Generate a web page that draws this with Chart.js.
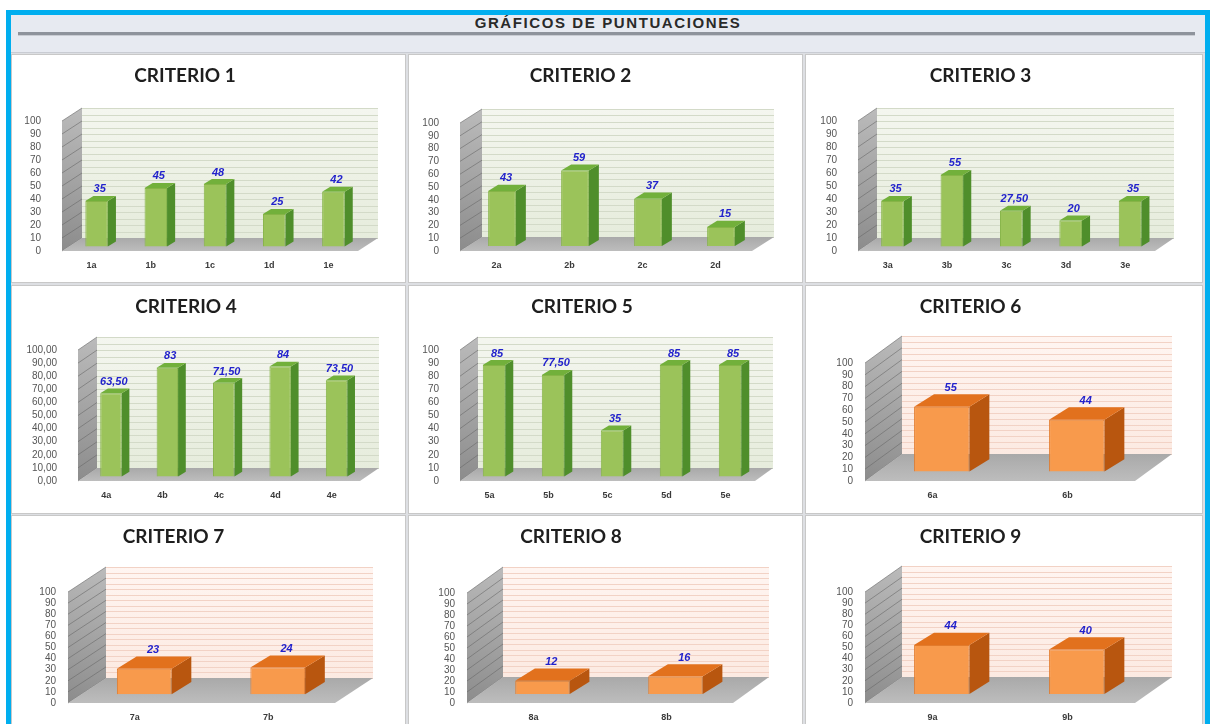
<!DOCTYPE html>
<html>
<head>
<meta charset="utf-8">
<script src="https://cdn.jsdelivr.net/npm/chart.js@4.4.1/dist/chart.umd.min.js"></script>
<style>
  body { margin: 0; width: 1211px; height: 724px; overflow: hidden; background: #fff; }
  #frame { position: absolute; left: 6px; top: 10px; width: 1194px; height: 720px;
           border: 5px solid #00AEEF; background: #E7EAF1; }
  #head { position: absolute; left: 11px; top: 15px; width: 1194px; text-align: center;
          font: bold 15px "Liberation Sans Narrow", "Liberation Sans", sans-serif;
          letter-spacing: 1.6px; color: #2a2a2a; line-height: 15px; }
  #rule { position: absolute; left: 18px; top: 32px; width: 1177px; height: 3px;
          background: #8E939C; border-bottom: 1px solid #C9CCD3; }
  #grid { position: absolute; left: 11px; top: 52px; width: 1194px; height: 700px;
          background: #DDDFE3; border-top: 1px solid #C9CCD3; }
  .panel { position: absolute; border: 1px solid #C8C8C8; background: #fff; }
  .panel canvas { display: block; }
</style>
</head>
<body>
<div id="frame"></div>
<div id="head">GRÁFICOS DE PUNTUACIONES</div>
<div id="rule"></div>
<div id="grid"></div>
<div id="panels"></div>

<script>
// ---- data ----
const titles = ["CRITERIO 1", "CRITERIO 2", "CRITERIO 3", "CRITERIO 4", "CRITERIO 5",
                "CRITERIO 6", "CRITERIO 7", "CRITERIO 8", "CRITERIO 9"];

const labels1 = ["1a", "1b", "1c", "1d", "1e"];
const values1 = [35, 45, 48, 25, 42];
const labels2 = ["2a", "2b", "2c", "2d"];
const values2 = [43, 59, 37, 15];
const labels3 = ["3a", "3b", "3c", "3d", "3e"];
const values3 = [35, 55, 27.5, 20, 35];
const labels4 = ["4a", "4b", "4c", "4d", "4e"];
const values4 = [63.5, 83, 71.5, 84, 73.5];
const labels5 = ["5a", "5b", "5c", "5d", "5e"];
const values5 = [85, 77.5, 35, 85, 85];
const labels6 = ["6a", "6b"];
const values6 = [55, 44];
const labels7 = ["7a", "7b"];
const values7 = [23, 24];
const labels8 = ["8a", "8b"];
const values8 = [12, 16];
const labels9 = ["9a", "9b"];
const values9 = [44, 40];

const yMin = 0, yMax = 100, yStep = 10;

const allLabels = [labels1, labels2, labels3, labels4, labels5, labels6, labels7, labels8, labels9];
const allValues = [values1, values2, values3, values4, values5, values6, values7, values8, values9];

// ---- looks ----
const looks = {
  green: { front: "#9BC35A", border: "#86B447", side: "#4F8E2B", top: "#72B03B",
           wall: ["#F4F6EF", "#E6ECDC"], grid: "#D3DAC8", gridStep: 5, bar: 0.38, tickPad: 21 },
  orange: { front: "#F89A4C", border: "#E27B2C", side: "#B8560F", top: "#E2711D",
            wall: ["#FFF5F1", "#FCEAE2"], grid: "#F2D2C5", gridStep: 5, bar: 0.41, tickPad: 12 }
};

// panel boxes: left, top, width, height
const colX = [11, 408, 805], colW = [395, 395, 398], rowY = [54, 285, 515], panelH = 229;
// chart area inside canvas [left, right, top, bottom] and wall depth [dx, dy]
const areas = [
  [50, 346, 66, 196, 20, -13], [51, 343, 68, 196, 22, -14], [52, 349, 66, 196, 19, -13],
  [66, 348, 64, 195, 19, -13], [51, 346, 64, 195, 18, -13], [59, 329, 77, 195, 37, -27],
  [56, 323, 76, 187, 38, -25], [58, 324, 77, 187, 36, -26], [59, 329, 76, 187, 37, -26]
];
const kinds = ["green", "green", "green", "green", "green", "orange", "orange", "orange", "orange"];

function fmt(v) {
  return Number.isInteger(v) ? String(v) : v.toFixed(2).replace(".", ",");
}
function poly(ctx, pts, fill) {
  ctx.beginPath();
  ctx.moveTo(pts[0][0], pts[0][1]);
  for (let i = 1; i < pts.length; i++) ctx.lineTo(pts[i][0], pts[i][1]);
  ctx.closePath();
  ctx.fillStyle = fill;
  ctx.fill();
}

// fake 3d box: walls + floor before bars, bar sides/tops + value labels after
const box3d = {
  id: "box3d",
  beforeDatasetsDraw(chart, args, o) {
    const ctx = chart.ctx, a = chart.chartArea, y = chart.scales.y;
    const dx = o.dx, dy = o.dy;
    const top = y.getPixelForValue(yMax), bot = y.getPixelForValue(yMin);
    ctx.save();
    // back wall
    const g = ctx.createLinearGradient(0, top + dy, 0, bot + dy);
    g.addColorStop(0, o.look.wall[0]);
    g.addColorStop(1, o.look.wall[1]);
    ctx.fillStyle = g;
    ctx.fillRect(a.left + dx, top + dy, a.right - a.left, bot - top);
    ctx.strokeStyle = o.look.grid;
    ctx.lineWidth = 1;
    for (let v = yMin; v <= yMax; v += o.look.gridStep) {
      const py = Math.round(y.getPixelForValue(v) + dy) + 0.5;
      ctx.beginPath();
      ctx.moveTo(a.left + dx, py);
      ctx.lineTo(a.right + dx, py);
      ctx.stroke();
    }
    // left wall
    const lg = ctx.createLinearGradient(a.left, bot, a.left + dx, top + dy);
    lg.addColorStop(0, "#8C8C8C");
    lg.addColorStop(1, "#BBBBBB");
    poly(ctx, [[a.left, top], [a.left + dx, top + dy], [a.left + dx, bot + dy], [a.left, bot]], lg);
    ctx.strokeStyle = "rgba(105,105,105,0.6)";
    for (let v = yMin; v <= yMax; v += yStep) {
      const py = y.getPixelForValue(v);
      ctx.beginPath();
      ctx.moveTo(a.left, py);
      ctx.lineTo(a.left + dx, py + dy);
      ctx.stroke();
    }
    // floor
    const fg = ctx.createLinearGradient(0, bot, 0, bot + dy);
    fg.addColorStop(0, "#BDBDBD");
    fg.addColorStop(1, "#A9A9A9");
    poly(ctx, [[a.left, bot], [a.right, bot], [a.right + dx, bot + dy], [a.left + dx, bot + dy]], fg);
    ctx.restore();
    // bars sit a little behind the front plane
    ctx.save();
    ctx.translate(dx * 0.25, dy * 0.35);
  },
  afterDatasetsDraw(chart, args, o) {
    const ctx = chart.ctx;
    const data = chart.data.datasets[0].data;
    chart.getDatasetMeta(0).data.forEach((bar, i) => {
      const w = bar.width, x0 = bar.x - w / 2, x1 = bar.x + w / 2;
      const yt = bar.y, yb = bar.base;
      const bx = w * 0.36, by = -bx * 0.62;
      poly(ctx, [[x1, yt], [x1 + bx, yt + by], [x1 + bx, yb + by], [x1, yb]], o.look.side);
      poly(ctx, [[x0, yt], [x0 + bx, yt + by], [x1 + bx, yt + by], [x1, yt]], o.look.top);
      ctx.font = "italic bold 11px 'Liberation Sans', sans-serif";
      ctx.textAlign = "center";
      ctx.textBaseline = "bottom";
      ctx.fillStyle = "#2222CC";
      ctx.fillText(fmt(data[i]), bar.x + bx / 2 - 1, yt + by - 1);
    });
    ctx.restore();
  }
};

const holder = document.getElementById("panels");
titles.forEach((title, k) => {
  const col = k % 3, row = Math.floor(k / 3);
  const look = looks[kinds[k]];
  const [L, R, T, B, dx, dy] = areas[k];
  const W = colW[col] - 2, H = panelH - 2;

  const div = document.createElement("div");
  div.className = "panel";
  div.style.left = colX[col] + "px";
  div.style.top = rowY[row] + "px";
  div.style.width = W + "px";
  div.style.height = H + "px";
  const cv = document.createElement("canvas");
  cv.width = W;
  cv.height = H;
  div.appendChild(cv);
  holder.appendChild(div);

  new Chart(cv, {
    type: "bar",
    data: {
      labels: allLabels[k],
      datasets: [{
        data: allValues[k],
        backgroundColor: look.front,
        borderColor: look.border,
        borderWidth: 1,
        barPercentage: look.bar,
        categoryPercentage: 1,
        clip: false
      }]
    },
    options: {
      responsive: false,
      animation: false,
      layout: { padding: { left: 0, right: W - R, top: 0, bottom: 0 } },
      plugins: {
        legend: { display: false },
        tooltip: { enabled: false },
        title: {
          display: true,
          text: title,
          color: "#1E1E1E",
          font: { family: "Lato", size: 19, weight: "bold" },
          padding: { top: 9, bottom: T - 9 - 22.8 }
        },
        box3d: { dx: dx, dy: dy, look: look }
      },
      scales: {
        x: {
          grid: { display: false, drawTicks: false },
          border: { display: false },
          ticks: { color: "#3A3A3A", padding: 9, font: { family: "Liberation Sans", size: 9, weight: "bold" } },
          afterFit: (s) => { s.height = H - B; }
        },
        y: {
          min: yMin,
          max: yMax,
          grid: { display: false, drawTicks: false },
          border: { display: false },
          ticks: {
            stepSize: yStep,
            autoSkip: false,
            padding: look.tickPad,
            color: "#555",
            font: { family: "Liberation Sans", size: 10, lineHeight: 1 },
            callback: (v) => k === 3 ? v.toFixed(2).replace(".", ",") : v
          },
          afterFit: (s) => { s.width = L; }
        }
      }
    },
    plugins: [box3d]
  });
});
</script>
</body>
</html>
